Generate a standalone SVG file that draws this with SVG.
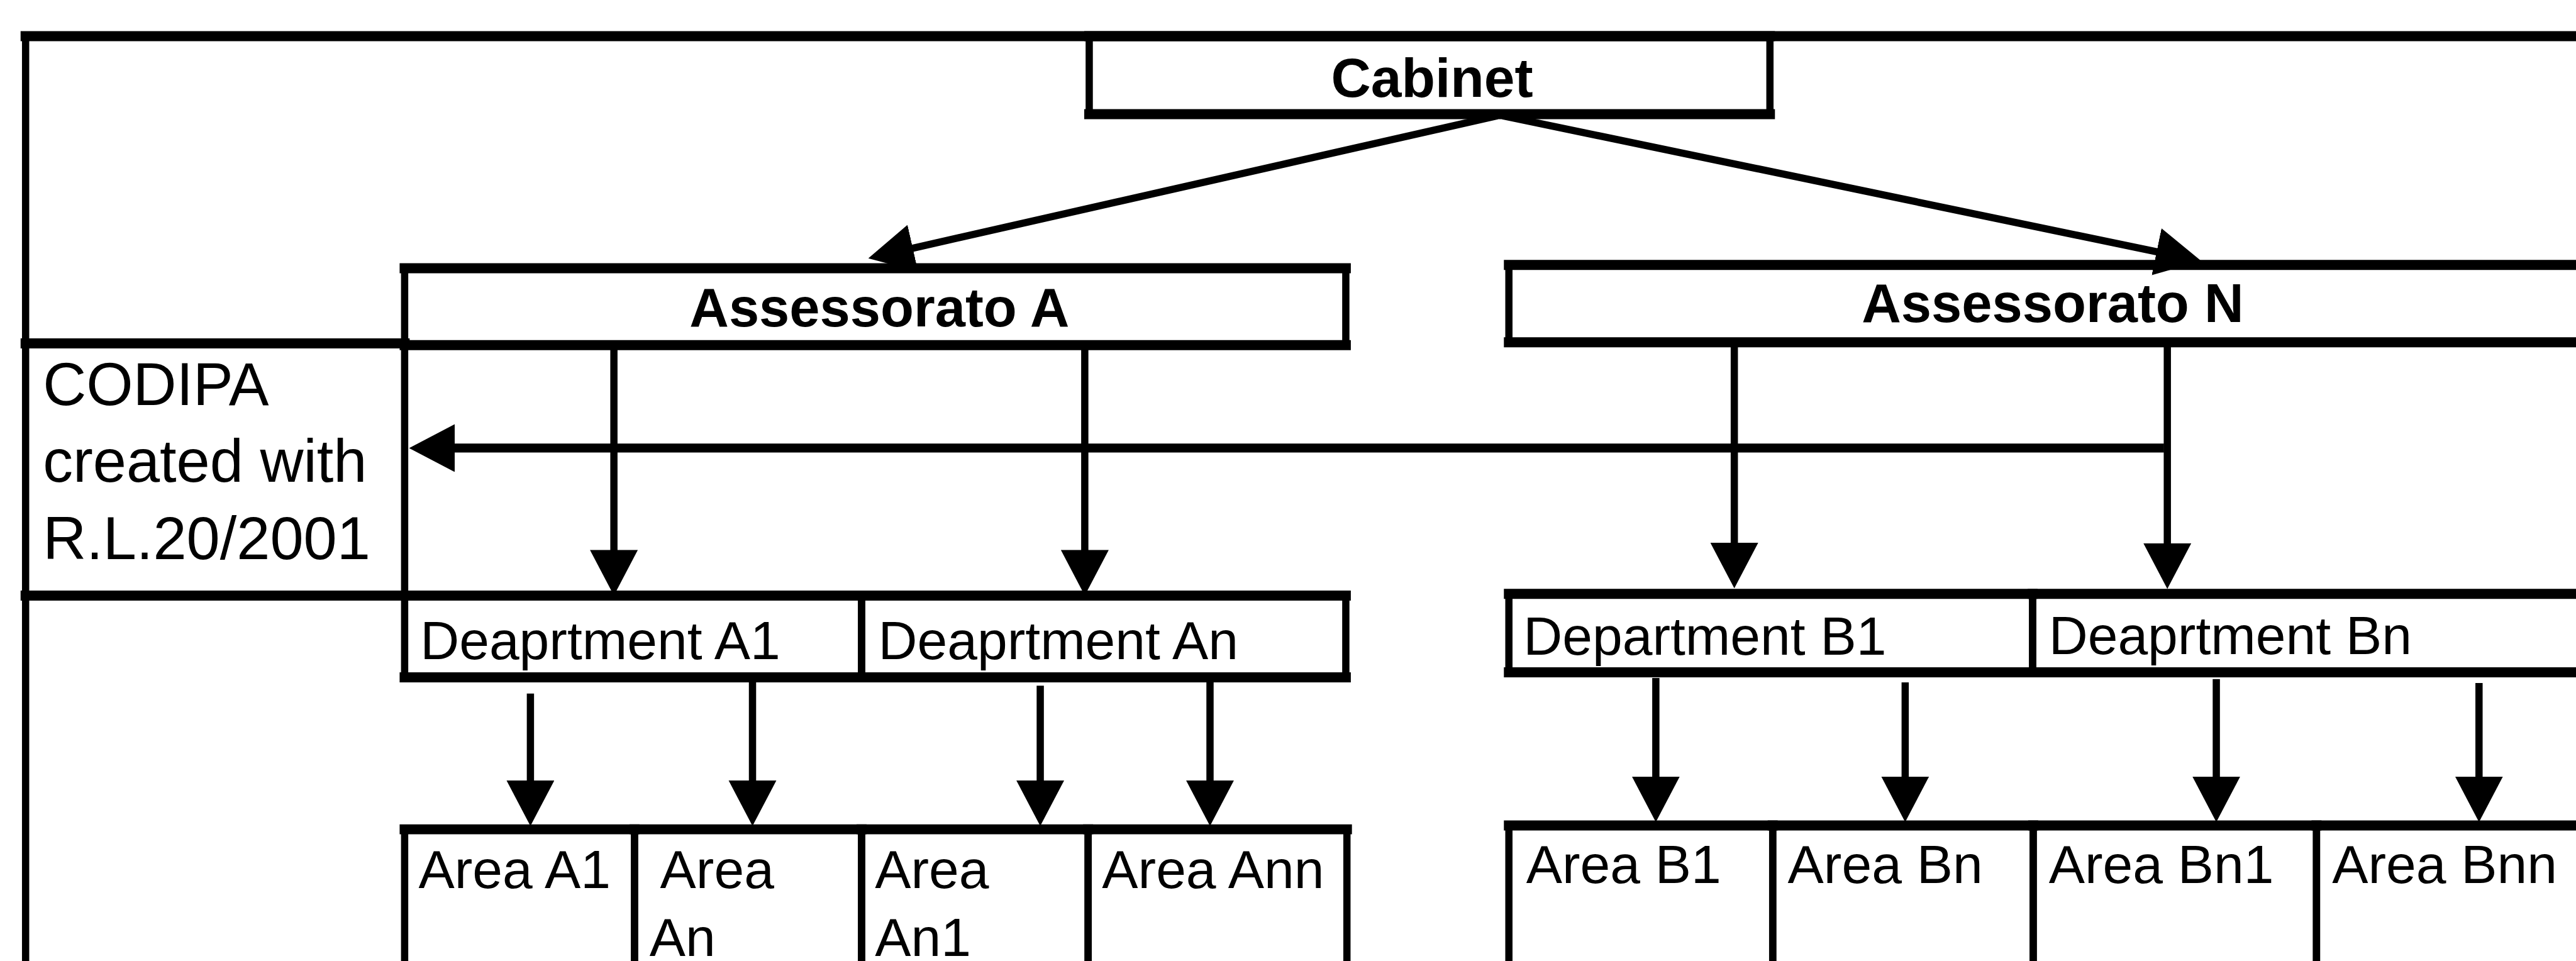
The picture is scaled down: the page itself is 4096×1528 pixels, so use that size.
<svg xmlns="http://www.w3.org/2000/svg" width="4096" height="1528" viewBox="0 0 4096 1528">
<defs>
<style>
.h{fill:none;stroke:#000;stroke-width:18;stroke-linecap:square}
.v{fill:none;stroke:#000;stroke-width:13}
.c{fill:none;stroke:#000;stroke-width:13;marker-end:url(#ah)}
.ch{fill:none;stroke:#000;stroke-width:16;marker-end:url(#ah)}
text{font-family:"Liberation Sans",Arial,Helvetica,sans-serif;fill:#000}
.t{font-size:97px}
.b{font-size:98px;font-weight:bold;text-anchor:middle}
.cod{font-size:108px}
</style>
<marker id="ah" viewBox="0 0 82 86" refX="20" refY="43" markerWidth="82" markerHeight="86" markerUnits="userSpaceOnUse" orient="auto">
<path d="M0,0 L82,43 L0,86 z" fill="#000"/>
</marker>
</defs>
<rect x="0" y="0" width="4096" height="1528" fill="#fff"/>
<g transform="scale(0.885)">
<g id="frame">
<path class="h" d="M46 65 H4700"/>
<path class="v" d="M46 65 V1800"/>
</g>
<g id="cabinet">
<path class="h" d="M1957 65 H3180 M1957 205 H3180"/>
<path class="v" d="M1957 65 V205 M3180 65 V205"/>
<text class="b" x="2573" y="174" style="font-size:99px">Cabinet</text>
</g>
<g id="assessorato-a">
<path class="h" d="M727 482 H2418 M727 620 H2418"/>
<path class="v" d="M727 482 V620 M2418 482 V620"/>
<text class="b" x="1580" y="586">Assessorato A</text>
</g>
<g id="assessorato-n">
<path class="h" d="M2711 476 H4700 M2711 615 H4700"/>
<path class="v" d="M2711 476 V615"/>
<text class="b" x="3688" y="578">Assessorato N</text>
</g>
<g id="codipa">
<path class="h" d="M46 617 H727 M46 1070 H727"/>
<path class="v" d="M727 617 V1070"/>
<text class="cod" x="77" y="728">CODIPA</text>
<text class="cod" x="77" y="866">created with</text>
<text class="cod" x="77" y="1004">R.L.20/2001</text>
</g>
<g id="dept-a1">
<path class="h" d="M727 1070 H1548 M727 1217 H1548"/>
<path class="v" d="M727 1070 V1217 M1548 1070 V1217"/>
<text class="t" x="755" y="1184">Deaprtment A1</text>
</g>
<g id="dept-an">
<path class="h" d="M1548 1070 H2418 M1548 1217 H2418"/>
<path class="v" d="M1548 1070 V1217 M2418 1070 V1217"/>
<text class="t" x="1578" y="1184">Deaprtment An</text>
</g>
<g id="dept-b1">
<path class="h" d="M2711 1067 H3652 M2711 1208 H3652"/>
<path class="v" d="M2711 1067 V1208 M3652 1067 V1208"/>
<text class="t" x="2737" y="1176">Department B1</text>
</g>
<g id="dept-bn">
<path class="h" d="M3652 1067 H4700 M3652 1208 H4700"/>
<path class="v" d="M3652 1067 V1208"/>
<text class="t" x="3681" y="1175">Deaprtment Bn</text>
</g>
<g id="area-a1">
<path class="h" d="M727 1490 H1140"/>
<path class="v" d="M727 1490 V1800 M1140 1490 V1800"/>
<text class="t" x="752" y="1595">Area A1</text>
</g>
<g id="area-an">
<path class="h" d="M1140 1490 H1548"/>
<path class="v" d="M1140 1490 V1800 M1548 1490 V1800"/>
<text class="t" x="1186" y="1595">Area</text>
<text class="t" x="1167" y="1717">An</text>
</g>
<g id="area-an1">
<path class="h" d="M1548 1490 H1955"/>
<path class="v" d="M1548 1490 V1800 M1955 1490 V1800"/>
<text class="t" x="1572" y="1595">Area</text>
<text class="t" x="1572" y="1717">An1</text>
</g>
<g id="area-ann">
<path class="h" d="M1955 1490 H2420"/>
<path class="v" d="M1955 1490 V1800 M2420 1490 V1800"/>
<text class="t" x="1980" y="1595">Area Ann</text>
</g>
<g id="area-b1">
<path class="h" d="M2711 1483 H3185"/>
<path class="v" d="M2711 1483 V1800 M3185 1483 V1800"/>
<text class="t" x="2742" y="1586">Area B1</text>
</g>
<g id="area-bn">
<path class="h" d="M3185 1483 H3653"/>
<path class="v" d="M3185 1483 V1800 M3653 1483 V1800"/>
<text class="t" x="3212" y="1586">Area Bn</text>
</g>
<g id="area-bn1">
<path class="h" d="M3653 1483 H4162"/>
<path class="v" d="M3653 1483 V1800 M4162 1483 V1800"/>
<text class="t" x="3681" y="1586">Area Bn1</text>
</g>
<g id="area-bnn">
<path class="h" d="M4162 1483 H4700"/>
<path class="v" d="M4162 1483 V1800"/>
<text class="t" x="4190" y="1586">Area Bnn</text>
</g>
<g id="connectors">
<path class="c" d="M2690 208 L1620.5 450.3"/>
<path class="c" d="M2700 208 L3894.3 456.4"/>
<path class="c" d="M1103 620 V1008"/>
<path class="c" d="M1949 620 V1008"/>
<path class="c" d="M3116 615 V995"/>
<path class="c" d="M3894 615 V996"/>
<path class="ch" d="M3888 805 H797"/>
<path class="c" d="M953 1246 V1422"/>
<path class="c" d="M1352 1222 V1422"/>
<path class="c" d="M1869 1232 V1422"/>
<path class="c" d="M2174 1222 V1422"/>
<path class="c" d="M2975 1218 V1415"/>
<path class="c" d="M3423 1226 V1415"/>
<path class="c" d="M3982 1220 V1415"/>
<path class="c" d="M4454 1227 V1415"/>
</g>
</g>
</svg>
